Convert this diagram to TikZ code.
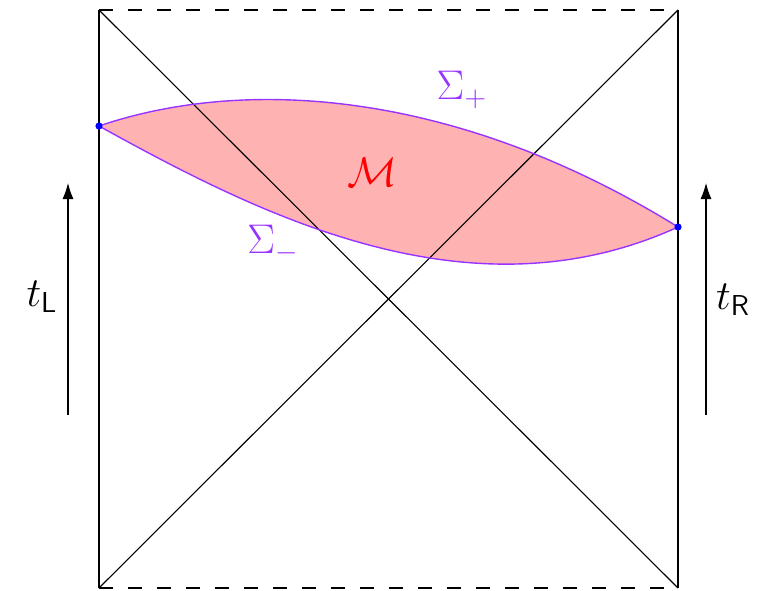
\documentclass[tikz,border=0pt]{standalone}
\usetikzlibrary{arrows.meta}
\definecolor{sigmapurple}{RGB}{153,51,255}
\begin{document}
\begin{tikzpicture}[x=0.5pt,y=-0.5pt,line join=round,>={Latex[length=8pt,width=5.5pt]},font=\huge]
  \useasboundingbox (0,0) rectangle (766,590);
  \coordinate (nw) at (99,10);
  \coordinate (ne) at (678,10);
  \coordinate (se) at (678,588);
  \coordinate (sw) at (99,588);
  \coordinate (pl) at (99,126);
  \coordinate (pr) at (678,227);
  \fill[red!30] (pl) .. controls (249,75) and (460,92) .. (pr)
    .. controls (470,322) and (260,215) .. (pl) -- cycle;
  \draw[line width=0.55pt] (nw) -- (sw);
  \draw[line width=0.55pt] (ne) -- (se);
  \draw[line width=0.55pt] (nw) -- (se);
  \draw[line width=0.55pt] (sw) -- (ne);
  \draw[line width=0.55pt,dash pattern=on 7pt off 7.5pt] (nw) -- (ne);
  \draw[line width=0.55pt,dash pattern=on 7pt off 7.5pt] (sw) -- (se);
  \draw[line width=0.7pt,sigmapurple] (pl) .. controls (249,75) and (460,92) .. (pr);
  \draw[line width=0.7pt,sigmapurple] (pl) .. controls (260,215) and (470,322) .. (pr);
  \fill[blue] (pl) circle (1.8pt);
  \fill[blue] (pr) circle (1.8pt);
  \node[sigmapurple] (splus) at (462,90) {$\Sigma_+$};
  \node[sigmapurple] (sminus) at (273,244) {$\Sigma_-$};
  \node[red] (mlabel) at (372,172) {$\mathcal{M}$};
  \coordinate (lfoot) at (68,415);
  \coordinate (lhead) at (68,183);
  \coordinate (rfoot) at (706,415);
  \coordinate (rhead) at (706,183);
  \draw[line width=0.55pt,->] (lfoot) -- (lhead);
  \draw[line width=0.55pt,->] (rfoot) -- (rhead);
  \node (tleft) at (42,297) {$t_{\mathsf{L}}$};
  \node (tright) at (733,300) {$t_{\mathsf{R}}$};
\end{tikzpicture}
\end{document}
